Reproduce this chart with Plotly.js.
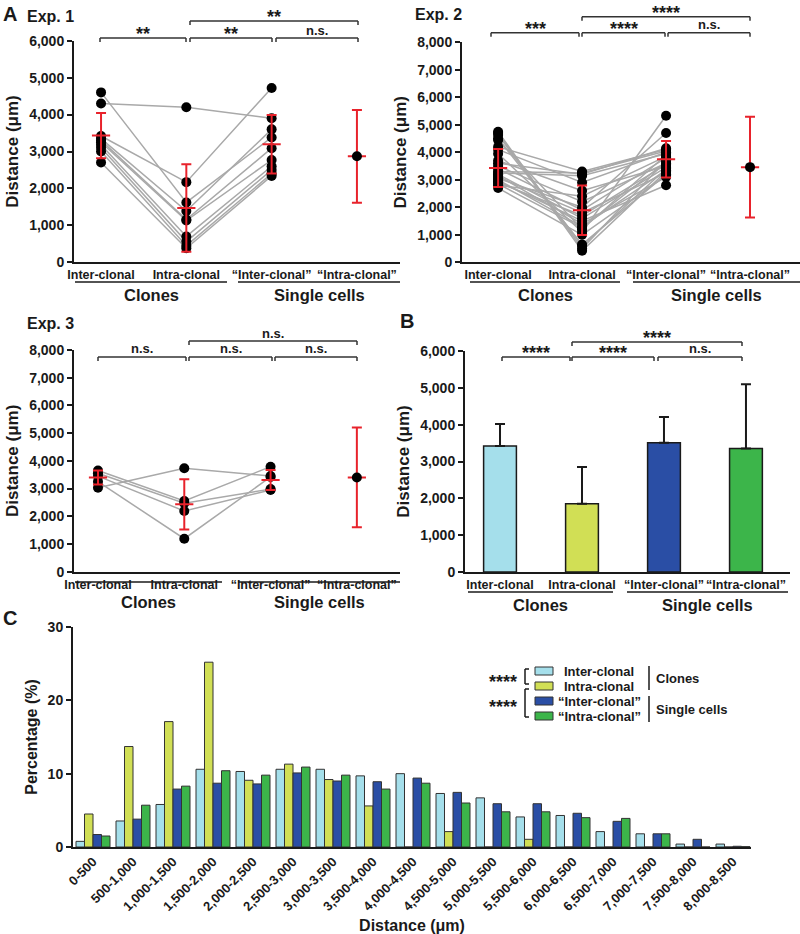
<!DOCTYPE html>
<html><head><meta charset="utf-8">
<script src="https://cdn.plot.ly/plotly-3.0.1.min.js"></script>
<style>html,body{margin:0;padding:0;background:#fff}#chart{width:800px;height:934px}</style>
</head><body><div id="chart"></div>
<script>
// ---------------- DATA ----------------
const catsA = ['Inter-clonal', 'Intra-clonal', '“Inter-clonal”', '“Intra-clonal”'];

// Exp. 1 paired values (inter-clonal, intra-clonal, single-cell "inter-clonal")
const exp1Inter = [4600, 4300, 3420, 3350, 3300, 3250, 3180, 3100, 3000, 2700];
const exp1Intra = [1620, 4200, 2170, 1390, 1160, 1130, 700, 560, 450, 380];
const exp1SC    = [3380, 3900, 4720, 3600, 3090, 2770, 2600, 2500, 2400, 2340];
const exp1Mean  = [3430, 1470, 3195, 2870];
const exp1SD    = [610, 1185, 790, 1255];

// Exp. 2
const exp2Inter = [4750, 4700, 4630, 4500, 4450, 4200, 4100, 3950, 3700, 3600, 3500, 3400, 3300, 3250, 3200, 3150, 3100, 3050, 3000, 2950, 2900, 2850, 2800, 2700];
const exp2Intra = [500, 420, 600, 650, 1200, 3300, 2900, 1100, 2600, 3200, 2200, 1900, 3250, 3150, 1600, 1400, 1800, 2000, 1300, 1500, 1700, 1250, 2400, 1000];
const exp2SC    = [3700, 3300, 3400, 3200, 3900, 4100, 4000, 5330, 3500, 4150, 3600, 3800, 4050, 3950, 3450, 3100, 3250, 4700, 3350, 2800, 3550, 3650, 3850, 3150];
const exp2Mean  = [3430, 1890, 3750, 3460];
const exp2SD    = [690, 900, 665, 1830];

// Exp. 3
const exp3Inter = [3030, 3650, 3550, 3450, 3250];
const exp3Intra = [3730, 2550, 2470, 2190, 1190];
const exp3SC    = [3450, 3790, 2980, 2950, 3420];
const exp3Mean  = [3400, 2430, 3310, 3400];
const exp3SD    = [250, 910, 360, 1800];

// Panel B (pooled mean + SD)
const pooledMean = [3420, 1850, 3510, 3350];
const pooledSD   = [600, 1000, 700, 1750];

// Panel C histogram (percentage)
const binLabels = ['0-500','500-1,000','1,000-1,500','1,500-2,000','2,000-2,500','2,500-3,000','3,000-3,500','3,500-4,000','4,000-4,500','4,500-5,000','5,000-5,500','5,500-6,000','6,000-6,500','6,500-7,000','7,000-7,500','7,500-8,000','8,000-8,500'];
const histInter   = [0.77, 3.55, 5.8, 10.6, 10.3, 10.6, 10.6, 9.7, 10.0, 7.3, 6.7, 4.1, 4.3, 2.1, 1.8, 0.4, 0.4];
const histIntra   = [4.5, 13.7, 17.1, 25.2, 9.1, 11.3, 9.2, 5.6, 0, 2.1, 0, 1.05, 0, 0, 0, 0, 0];
const histSCInter = [1.7, 3.8, 7.9, 8.7, 8.6, 10.1, 9.0, 8.9, 9.4, 7.45, 5.9, 5.9, 4.6, 3.5, 1.8, 1.05, 0.1];
const histSCIntra = [1.5, 5.7, 8.3, 10.4, 9.8, 10.9, 9.8, 7.9, 8.7, 6.0, 4.8, 4.8, 4.0, 3.9, 1.8, 0, 0.05];
const legendNames = ['Inter-clonal', 'Intra-clonal', '“Inter-clonal”', '“Intra-clonal”'];

// ---------------- STYLE ----------------
const FONT = '"Liberation Sans", Arial, Helvetica, sans-serif';
const INK = '#1a1a1a';
const RED = '#e8222b';
const GRAY = '#a9a9a9';
const COLORS = ['#a5dfeb', '#d1df55', '#2a4ea5', '#3cb54a'];
const W = 800, H = 934;
const px = x => x / W;
const py = y => 1 - y / H;

const traces = [];

function addExp(n, inter, intra, sc, mean, sd) {
  const xa = n === 1 ? 'x' : 'x' + n, ya = n === 1 ? 'y' : 'y' + n;
  for (let i = 0; i < inter.length; i++) {
    traces.push({type: 'scatter', mode: 'lines', x: catsA.slice(0, 3), y: [inter[i], intra[i], sc[i]],
      xaxis: xa, yaxis: ya, line: {color: GRAY, width: 1.5}, hoverinfo: 'skip'});
  }
  [inter, intra, sc].forEach((arr, k) => {
    traces.push({type: 'scatter', mode: 'markers', x: arr.map(() => catsA[k]), y: arr,
      xaxis: xa, yaxis: ya, marker: {color: '#000', size: 10}, hoverinfo: 'skip'});
  });
  traces.push({type: 'scatter', mode: 'markers', x: catsA, y: mean, xaxis: xa, yaxis: ya,
    marker: {symbol: 'line-ew', size: 13, color: RED, line: {color: RED, width: 2}},
    error_y: {type: 'data', array: sd, color: RED, thickness: 2, width: 5}, hoverinfo: 'skip'});
  traces.push({type: 'scatter', mode: 'markers', x: [catsA[3]], y: [mean[3]], xaxis: xa, yaxis: ya,
    marker: {color: '#000', size: 10}, hoverinfo: 'skip'});
}
addExp(1, exp1Inter, exp1Intra, exp1SC, exp1Mean, exp1SD);
addExp(2, exp2Inter, exp2Intra, exp2SC, exp2Mean, exp2SD);
addExp(3, exp3Inter, exp3Intra, exp3SC, exp3Mean, exp3SD);

traces.push({type: 'bar', x: catsA, y: pooledMean, xaxis: 'x4', yaxis: 'y4', width: 0.4,
  marker: {color: COLORS, line: {color: INK, width: 1.5}},
  error_y: {type: 'data', symmetric: false, array: pooledSD, arrayminus: pooledSD.map(() => 0), color: INK, thickness: 2, width: 5},
  hoverinfo: 'skip'});

[histInter, histIntra, histSCInter, histSCIntra].forEach((vals, k) => {
  traces.push({type: 'bar', name: legendNames[k], x: binLabels, y: vals, xaxis: 'x5', yaxis: 'y5',
    marker: {color: COLORS[k], line: {color: '#333', width: 1}}, hoverinfo: 'skip'});
});

// ---------------- AXES ----------------
function yAx(dom, max, dtick, fmt) {
  return {domain: [py(dom[0]), py(dom[1])], range: [0, max], dtick: dtick, tickformat: fmt,
    showline: true, linecolor: INK, linewidth: 2, ticks: 'outside', ticklen: 5, tickwidth: 2, tickcolor: INK,
    showgrid: false, zeroline: false, fixedrange: true,
    tickfont: {family: FONT, size: 14, color: INK, weight: 'bold'},
    title: {text: '', font: {family: FONT, size: 17, color: INK, weight: 'bold'}, standoff: 6}};
}
function xAx(dom, range, anchor) {
  return {domain: [px(dom[0]), px(dom[1])], type: 'category', range: range, anchor: anchor, tickangle: 0,
    showline: true, linecolor: INK, linewidth: 2, ticks: '', showgrid: false, zeroline: false, fixedrange: true,
    tickfont: {family: FONT, size: 12.5, color: INK, weight: 'bold'}};
}

const layout = {
  width: W, height: H, margin: {l: 0, r: 0, t: 0, b: 0},
  paper_bgcolor: '#fff', plot_bgcolor: 'rgba(0,0,0,0)', showlegend: false,
  barmode: 'group', bargap: 0.15, bargroupgap: 0,
  font: {family: FONT, color: INK},
  xaxis: xAx([74, 400], [-0.317, 3.505], 'y'),
  yaxis: Object.assign(yAx([262.3, 40.7], 6000, 1000, ',d'), {anchor: 'x'}),
  xaxis2: xAx([462, 800], [-0.43, 3.595], 'y2'),
  yaxis2: Object.assign(yAx([262.3, 42.3], 8000, 1000, ',d'), {anchor: 'x2'}),
  xaxis3: xAx([74, 400], [-0.278, 3.5], 'y3'),
  yaxis3: Object.assign(yAx([571.7, 350], 8000, 1000, ',d'), {anchor: 'x3'}),
  xaxis4: xAx([465, 790], [-0.427, 3.537], 'y4'),
  yaxis4: Object.assign(yAx([572, 351], 6000, 1000, ',d'), {anchor: 'x4'}),
  xaxis5: Object.assign(xAx([73, 751], [-0.5, 16.45], 'y5'), {tickangle: -45,
    tickfont: {family: FONT, size: 13, color: INK, weight: 'bold'},
    title: {text: 'Distance (μm)', font: {family: FONT, size: 16, color: INK, weight: 'bold'}, standoff: 10}}),
  yaxis5: Object.assign(yAx([847, 627], 30, 10, 'd'), {anchor: 'x5'}),
  shapes: [], annotations: []
};
['yaxis', 'yaxis2', 'yaxis3', 'yaxis4'].forEach(a => layout[a].title.text = 'Distance (μm)');
layout.yaxis5.title.text = 'Percentage (%)';
layout.yaxis5.title.font.size = 16;

// ---------------- DECORATIONS ----------------
const S = layout.shapes, A = layout.annotations;
function ln(x0, y0, x1, y1, w, c) {
  S.push({type: 'line', xref: 'paper', yref: 'paper', x0: px(x0), y0: py(y0), x1: px(x1), y1: py(y1),
    line: {color: c || INK, width: w || 1.5}});
}
function txt(x, y, text, size, xanchor) {
  A.push({xref: 'paper', yref: 'paper', x: px(x), y: py(y), text: '<b>' + text + '</b>', showarrow: false,
    xanchor: xanchor || 'center', yanchor: 'middle',
    font: {family: FONT, size: size, color: INK, weight: 'bold'}});
}
function bracket(x0, x1, y, label) {
  ln(x0, y, x1, y, 1.5, '#333');
  ln(x0, y, x0, y + 4, 1.5, '#333');
  ln(x1, y, x1, y + 4, 1.5, '#333');
  const star = label.indexOf('*') >= 0;
  txt((x0 + x1) / 2, star ? y - 4 : y - 8, label, star ? 18 : 13);
}
function groups(yLine, c0, c1, s0, s1, yText) {
  ln(c0, yLine, c1, yLine, 1.5);
  ln(s0, yLine, s1, yLine, 1.5);
  txt((c0 + c1) / 2, yText, 'Clones', 16.5);
  txt((s0 + s1) / 2, yText, 'Single cells', 16.5);
}

// panel letters & titles
txt(10, 14, 'A', 20);
txt(407, 321, 'B', 20);
txt(10, 618, 'C', 20);
txt(25, 16, 'Exp. 1', 16, 'left');
txt(413, 14, 'Exp. 2', 16, 'left');
txt(25, 324, 'Exp. 3', 16, 'left');

// Exp 1 brackets
bracket(100, 186, 38, '**');
bracket(190, 272, 38, '**');
bracket(276, 358, 38, 'n.s.');
bracket(190, 358, 21, '**');
groups(282, 75, 227, 238, 400, 295);

// Exp 2
bracket(491, 579, 32.7, '***');
bracket(582, 665, 32.7, '****');
bracket(668, 750, 32.7, 'n.s.');
bracket(582, 750, 16.7, '****');
groups(282, 470, 620, 633, 800, 295);

// Exp 3
bracket(98, 186, 357, 'n.s.');
bracket(189, 272, 357, 'n.s.');
bracket(275, 357, 357, 'n.s.');
bracket(189, 357, 341, 'n.s.');
groups(582, 75, 222, 238, 400, 602);

// B
bracket(502, 570, 357, '****');
bracket(572, 654, 357, '****');
bracket(658, 742, 357, 'n.s.');
bracket(572, 742, 342, '****');
groups(592, 468, 613, 627, 788, 605);

// C legend (drawn)
const legRows = [671, 686, 701, 716];
legRows.forEach((y, k) => {
  S.push({type: 'rect', xref: 'paper', yref: 'paper', x0: px(535), x1: px(553), y0: py(y + 4), y1: py(y - 4),
    fillcolor: COLORS[k], line: {color: '#333', width: 1}});
  txt(599, y, legendNames[k], 13);
});
ln(649, 666, 649, 690, 1.5);
ln(649, 696, 649, 722, 1.5);
txt(654, 678, 'Clones', 13, 'left');
txt(654, 709, 'Single cells', 13, 'left');
// significance brackets in legend
ln(525, 669, 525, 684, 1.5); ln(525, 669, 529, 669, 1.5); ln(525, 684, 529, 684, 1.5);
ln(525, 689, 525, 717, 1.5); ln(525, 689, 529, 689, 1.5); ln(525, 717, 529, 717, 1.5);
txt(519, 682, '****', 18, 'right');
txt(519, 707, '****', 18, 'right');

Plotly.newPlot('chart', traces, layout, {staticPlot: true, displayModeBar: false});
</script></body></html>
